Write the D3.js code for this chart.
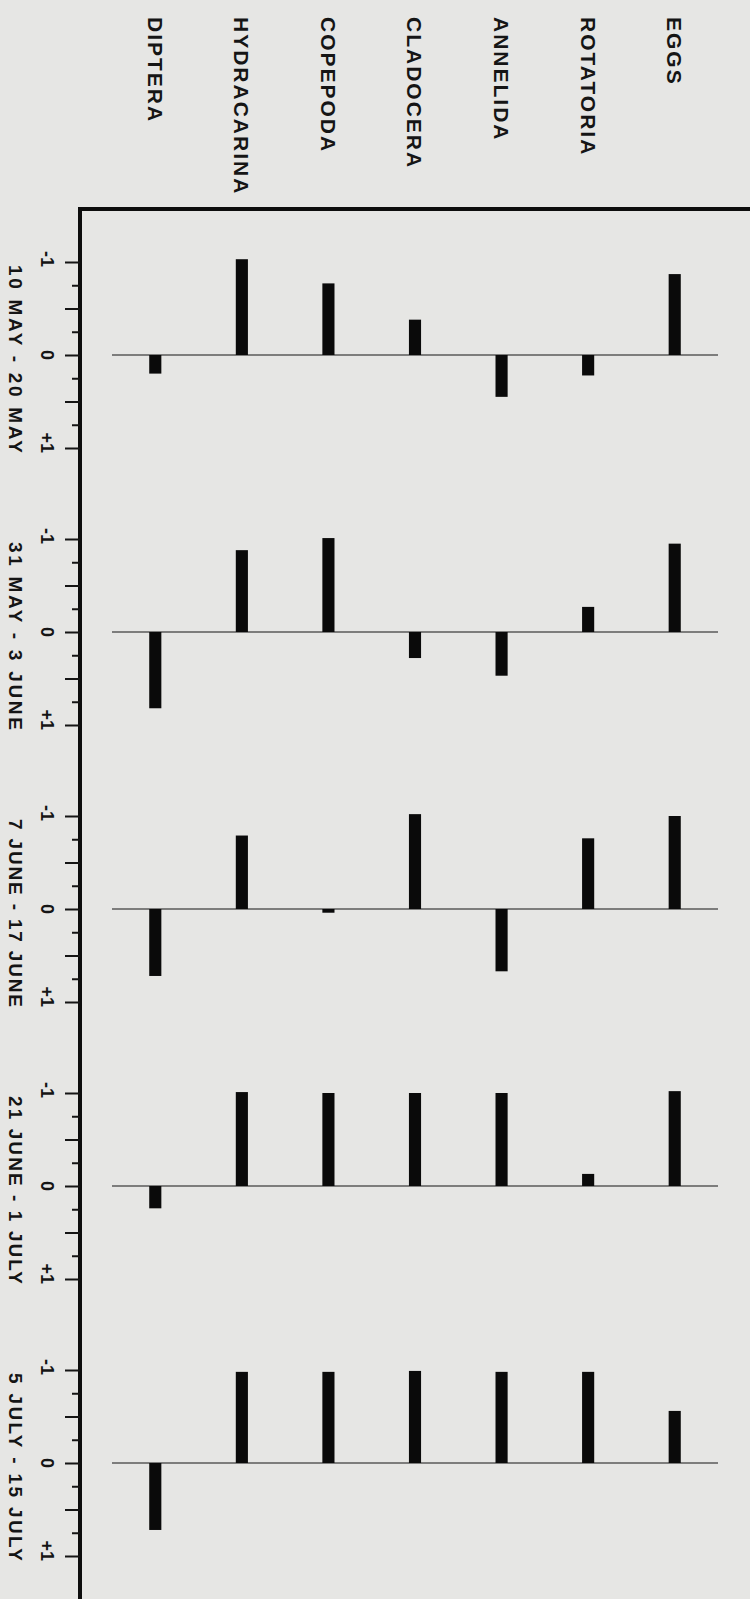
<!DOCTYPE html>
<html>
<head>
<meta charset="utf-8">
<script src="https://cdn.jsdelivr.net/npm/d3@7"></script>
<style>
  html, body { margin: 0; padding: 0; background: #e6e6e4; }
  svg { display: block; }
  text { font-family: "Liberation Sans", Arial, sans-serif; font-weight: bold; fill: #151515; }
</style>
</head>
<body>
<script>
// ---- data ----
const categories = ["DIPTERA", "HYDRACARINA", "COPEPODA", "CLADOCERA", "ANNELIDA", "ROTATORIA", "EGGS"];
const periods = ["10 MAY - 20 MAY", "31 MAY - 3 JUNE", "7 JUNE - 17 JUNE", "21 JUNE - 1 JULY", "5 JULY - 15 JULY"];
const may10_20   = [0.20, -1.03, -0.77, -0.38, 0.45, 0.22, -0.87];
const may31_jun3 = [0.82, -0.88, -1.01, 0.28, 0.47, -0.27, -0.95];
const jun7_17    = [0.72, -0.79, 0.04, -1.02, 0.67, -0.76, -1.00];
const jun21_jul1 = [0.24, -1.01, -1.00, -1.00, -1.00, -0.13, -1.02];
const jul5_15    = [0.72, -0.98, -0.98, -0.99, -0.98, -0.98, -0.56];
const seriesValues = [may10_20, may31_jun3, jun7_17, jun21_jul1, jul5_15];
const tickValues = [-1, -0.75, -0.5, -0.25, 0, 0.25, 0.5, 0.75, 1];
const tickLabels = ["-1", "0", "+1"];
const labeledTicks = [-1, 0, 1];

// ---- layout ----
const W = 750, H = 1599;
const frameX = 80, frameY = 209;
const firstZero = 355, panelStep = 277, halfSpan = 93;

const svg = d3.select("body").append("svg").attr("width", W).attr("height", H);
svg.append("rect").attr("width", W).attr("height", H).attr("fill", "#e6e6e4");

const x = d3.scaleBand().domain(categories).range([112, 718])
  .paddingInner(0.86).paddingOuter(0.43);

// category labels (rotated, reading top to bottom)
const catFont = 21, catCap = catFont * 0.72;
svg.append("g").selectAll("text").data(categories).join("text")
  .attr("transform", d => `translate(${x(d) + x.bandwidth() / 2 - catCap / 2},17) rotate(90)`)
  .attr("font-size", catFont)
  .attr("letter-spacing", 2)
  .attr("text-anchor", "start")
  .text(d => d);

// frame
svg.append("line").attr("x1", frameX - 2).attr("x2", W).attr("y1", frameY).attr("y2", frameY)
  .attr("stroke", "#0d0d0d").attr("stroke-width", 4);
svg.append("line").attr("x1", frameX).attr("x2", frameX).attr("y1", frameY - 2).attr("y2", H)
  .attr("stroke", "#0d0d0d").attr("stroke-width", 4);

seriesValues.forEach((vals, i) => {
  const z = firstZero + i * panelStep;
  const y = d3.scaleLinear().domain([-1, 1]).range([z - halfSpan, z + halfSpan]);
  const g = svg.append("g");

  // axis ticks
  const ax = g.append("g").attr("transform", `translate(${frameX},0)`)
    .call(d3.axisLeft(y).tickValues(tickValues).tickSize(8).tickFormat(""));
  ax.select(".domain").remove();
  ax.selectAll(".tick line")
    .attr("x2", d => (Math.abs(d * 2 - Math.round(d * 2)) < 1e-6 ? -15 : -8))
    .attr("stroke", "#151515").attr("stroke-width", 2);

  // tick labels
  const tf = 18, tcap = tf * 0.72;
  g.selectAll("text.tl").data(labeledTicks).join("text").attr("class", "tl")
    .attr("transform", d => `translate(${47 - tcap / 2},${d === 0 ? y(d) : y(d) + 5}) rotate(90)`)
    .attr("font-size", tf)
    .attr("text-anchor", d => d === 0 ? "middle" : "end")
    .text((d, k) => tickLabels[k]);

  // period label
  const pf = 19, pcap = pf * 0.72;
  g.append("text")
    .attr("transform", `translate(${16 - pcap / 2},${y(-1) + 3}) rotate(90)`)
    .attr("font-size", pf)
    .attr("textLength", 188)
    .attr("lengthAdjust", "spacing")
    .text(periods[i]);

  // baseline
  g.append("line").attr("x1", x.range()[0]).attr("x2", x.range()[1])
    .attr("y1", y(0)).attr("y2", y(0))
    .attr("stroke", "#5a5a5a").attr("stroke-width", 1.6);

  // bars
  g.selectAll("rect.bar").data(vals).join("rect").attr("class", "bar")
    .attr("x", (d, k) => x(categories[k]))
    .attr("width", x.bandwidth())
    .attr("y", d => y(Math.min(0, d)))
    .attr("height", d => Math.abs(y(d) - y(0)))
    .attr("fill", "#0a0a0a");
});
</script>
</body>
</html>
